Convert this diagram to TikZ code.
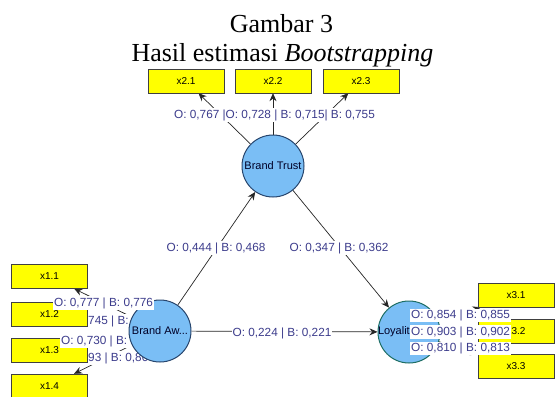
\documentclass[tikz,border=0pt]{standalone}
\usepackage{fontspec}
\setmainfont{Liberation Serif}
\newfontfamily\plsfont{Liberation Sans}
\usetikzlibrary{arrows.meta}
\definecolor{indyellow}{RGB}{255,255,0}
\definecolor{lvblue}{RGB}{122,190,245}
\definecolor{lvborder}{RGB}{40,70,110}
\definecolor{lvteal}{RGB}{30,110,100}
\definecolor{lblblue}{RGB}{60,60,140}
\pgfdeclarelayer{bgfill}
\pgfdeclarelayer{bgline}
\pgfdeclarelayer{midlbl}
\pgfsetlayers{bgfill,bgline,midlbl,main}
\begin{document}
\begin{tikzpicture}[x=1pt,y=-1pt,
 ind/.style={draw=black!75,fill=indyellow,minimum width=76pt,minimum height=24pt,inner sep=0pt,font=\plsfont\fontsize{10}{12}\selectfont},
 lv/.style={circle,draw=lvborder,fill=lvblue,line width=1pt,minimum size=62pt,inner sep=0pt,font=\plsfont\fontsize{11}{13}\selectfont,text=black!85!blue},
 lbl/.style={fill=white,text=lblblue,inner sep=1pt,font=\plsfont\fontsize{11.8}{13}\selectfont},
 conn/.style={draw=black!85,line width=0.7pt},
 arr/.style={conn,-{Stealth[length=8pt,width=7pt]}},
 ttl/.style={anchor=base,font=\fontsize{26}{30}\selectfont}]
\begin{pgfonlayer}{bgfill}
\fill[white] (0,0) rectangle (556,396);
\end{pgfonlayer}
\useasboundingbox (0,0) rectangle (556,396);
% title
\node[ttl] (t1) at (281.5,33) {Gambar 3};
\node[ttl] (t2) at (282.5,62) {Hasil estimasi \textit{Bootstrapping}};
% indicators
\node[ind] (x11) at (49.5,276.5) {x1.1};
\node[ind] (x12) at (49.5,314) {x1.2};
\node[ind] (x13) at (49.5,350) {x1.3};
\node[ind] (x14) at (49.5,386) {x1.4};
\node[ind] (x21) at (186,81) {x2.1};
\node[ind] (x22) at (273,81) {x2.2};
\node[ind] (x23) at (361,81) {x2.3};
\node[ind] (x31) at (516,295) {x3.1};
\node[ind] (x32) at (516,331.5) {x3.2};
\node[ind] (x33) at (516,366.5) {x3.3};
% label under the circle, over x1.3
\node[lbl,anchor=west] (l13) at (60,341) {O: 0,730 | B: 0};
% latent variables
\node[lv] (BT) at (273,166) {Brand Trust};
\node[lv] (BA) at (160,331) {Brand Aw...};
\node[lv,draw=lvteal] (LO) at (409,332) {};
\node[anchor=east,inner sep=0pt,font=\plsfont\fontsize{11}{13}\selectfont,text=black!85!blue] (LOt) at (410,332) {Loyalit};
% hidden labels
\begin{pgfonlayer}{midlbl}
\node[lbl,anchor=west] (l12) at (87,321) {745 | B: 0};
\node[lbl,anchor=west] (l14) at (87,358) {93 | B: 0,80};
\end{pgfonlayer}
% connectors
\begin{pgfonlayer}{bgline}
\draw[arr] (BA) -- (BT);
\draw[arr] (BT) -- (LO);
\draw[arr] (BA) -- (LO);
\foreach \t in {x21,x22,x23} \draw[arr] (BT) -- (\t);
\foreach \t in {x11,x12,x13,x14} \draw[arr] (BA) -- (\t);
\foreach \t in {x31,x32,x33} \draw[arr] (LO) -- (\t);
\end{pgfonlayer}
% labels
\node[lbl,anchor=west] (l11) at (53,303) {O: 0,777 | B: 0,776};
\node[lbl] (l2) at (274.5,115) {O: 0,767 |O: 0,728 | B: 0,715| B: 0,755};
\node[lbl] (lab) at (216,248) {O: 0,444 | B: 0,468};
\node[lbl] (lbl) at (339,248) {O: 0,347 | B: 0,362};
\node[lbl] (lal) at (282,333) {O: 0,224 | B: 0,221};
\node[lbl,anchor=west] (l31) at (410,315.5) {O: 0,854 | B: 0,855};
\node[lbl,anchor=west] (l32) at (410,332) {O: 0,903 | B: 0,902};
\node[lbl,anchor=west] (l33) at (410,348.5) {O: 0,810 | B: 0,813};
\end{tikzpicture}
\end{document}
